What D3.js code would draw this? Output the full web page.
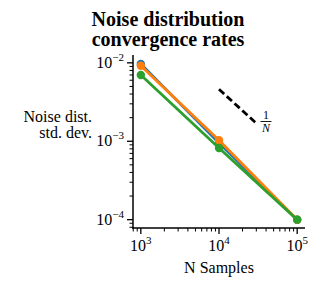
<!DOCTYPE html>
<html><head><meta charset="utf-8">
<script src="https://cdn.jsdelivr.net/npm/d3@7"></script>
<style>body{margin:0;background:#fff}svg{display:block}text{font-family:"Liberation Serif","DejaVu Serif",serif;fill:#000}</style>
</head><body>
<script>
const nSamples = [1000, 10000, 100000];
const seriesNames = ["a", "b", "c"];
const seriesColors = ["#1f77b4", "#ff7f0e", "#2ca02c"];
const seriesValues = [
  [0.0097, 0.00095, 0.0001],
  [0.0092, 0.00103, 0.0001],
  [0.0070, 0.00082, 0.0001]
];
const refLineX = [10000, 29000];
const refLineY = [0.0046, 0.00175];
const xTickExps = [3, 4, 5];
const yTickExps = [-2, -3, -4];
const titleLines = ["Noise distribution", "convergence rates"];
const yLabelLines = ["Noise dist.", "std. dev."];
const xLabel = "N Samples";

const W = 321, H = 288;
const svg = d3.select("body").append("svg").attr("width", W).attr("height", H);
const x = d3.scaleLog().domain([Math.pow(10, 2.9), Math.pow(10, 5.1)]).range([133, 305]);
const y = d3.scaleLog().domain([Math.pow(10, -4.1), Math.pow(10, -1.9)]).range([227.5, 55]);

const xMinor = [], yMinor = [];
for (let e = 2; e <= 5; e++) for (let m = 2; m <= 9; m++) { const v = m * Math.pow(10, e); if (v >= x.domain()[0] && v <= x.domain()[1]) xMinor.push(v); }
for (let e = -5; e <= -2; e++) for (let m = 2; m <= 9; m++) { const v = m * Math.pow(10, e); if (v >= y.domain()[0] && v <= y.domain()[1]) yMinor.push(v); }

const xAxisY = 228, yAxisX = 133;
const axes = svg.append("g");
axes.append("line").attr("x1", yAxisX).attr("x2", yAxisX).attr("y1", 55).attr("y2", xAxisY + 0.75).attr("stroke", "#000").attr("stroke-width", 1.5);
axes.append("line").attr("x1", yAxisX - 0.75).attr("x2", 305).attr("y1", xAxisY).attr("y2", xAxisY).attr("stroke", "#000").attr("stroke-width", 1.5);
xMinor.forEach(v => axes.append("line").attr("x1", x(v)).attr("x2", x(v)).attr("y1", xAxisY).attr("y2", xAxisY + 3.5).attr("stroke", "#000").attr("stroke-width", 1));
xTickExps.forEach(e => {
  const px = x(Math.pow(10, e));
  axes.append("line").attr("x1", px).attr("x2", px).attr("y1", xAxisY).attr("y2", xAxisY + 6).attr("stroke", "#000").attr("stroke-width", 1.3);
  const t = axes.append("text").attr("x", px).attr("y", 251).attr("text-anchor", "middle").attr("font-size", 16);
  t.append("tspan").text("10");
  t.append("tspan").attr("dy", -7).attr("font-size", 11).text(e);
});
yMinor.forEach(v => axes.append("line").attr("x1", yAxisX).attr("x2", yAxisX - 3.5).attr("y1", y(v)).attr("y2", y(v)).attr("stroke", "#000").attr("stroke-width", 1));
yTickExps.forEach(e => {
  const py = y(Math.pow(10, e));
  axes.append("line").attr("x1", yAxisX).attr("x2", yAxisX - 6).attr("y1", py).attr("y2", py).attr("stroke", "#000").attr("stroke-width", 1.3);
  const t = axes.append("text").attr("x", 124).attr("y", py + 5).attr("text-anchor", "end").attr("font-size", 16);
  t.append("tspan").text("10");
  t.append("tspan").attr("dy", -7).attr("font-size", 11).text("\u2212" + Math.abs(e));
});

const line = d3.line().x(d => x(d[0])).y(d => y(d[1]));
seriesValues.forEach((vals, i) => {
  const pts = nSamples.map((n, j) => [n, vals[j]]);
  const g = svg.append("g");
  g.append("path").attr("d", line(pts)).attr("fill", "none").attr("stroke", seriesColors[i]).attr("stroke-width", 2.8);
  g.selectAll("circle").data(pts).join("circle").attr("cx", d => x(d[0])).attr("cy", d => y(d[1])).attr("r", 4.2).attr("fill", seriesColors[i]);
});

svg.append("path").attr("d", line(refLineX.map((v, i) => [v, refLineY[i]]))).attr("fill", "none").attr("stroke", "#000").attr("stroke-width", 2.8).attr("stroke-dasharray", "7,3.5");
const fx = 266;
svg.append("text").attr("x", fx).attr("y", 119).attr("text-anchor", "middle").attr("font-size", 12).text("1");
svg.append("line").attr("x1", fx - 5.5).attr("x2", fx + 5.5).attr("y1", 121.5).attr("y2", 121.5).attr("stroke", "#000").attr("stroke-width", 0.9);
svg.append("text").attr("x", fx).attr("y", 132).attr("text-anchor", "middle").attr("font-size", 12).attr("font-style", "italic").text("N");

titleLines.forEach((s, i) => svg.append("text").attr("x", 168).attr("y", 26 + i * 20).attr("text-anchor", "middle").attr("font-size", 20).attr("font-weight", "bold").text(s));
yLabelLines.forEach((s, i) => svg.append("text").attr("x", 92).attr("y", 122 + i * 16).attr("text-anchor", "end").attr("font-size", 16).text(s));
svg.append("text").attr("x", 219).attr("y", 273).attr("text-anchor", "middle").attr("font-size", 16).text(xLabel);
</script>
</body></html>
